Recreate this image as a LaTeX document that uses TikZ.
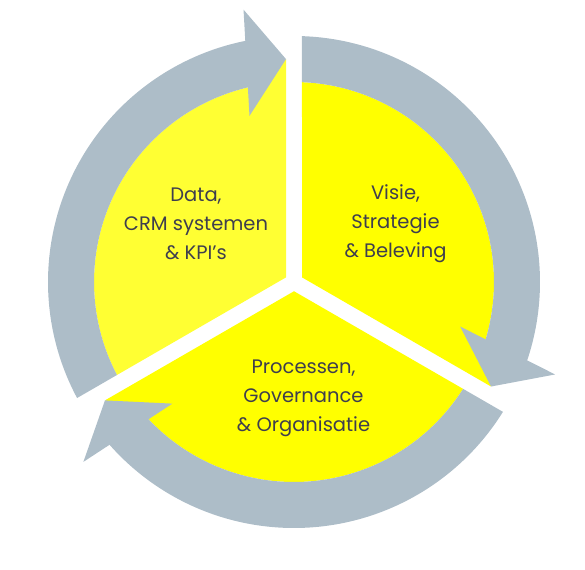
\documentclass[tikz,border=0pt]{standalone}
\usepackage{fontspec}
\setmainfont{Poppins}
\definecolor{ringgray}{RGB}{173,189,200}
\definecolor{yelA}{RGB}{255,255,51}
\definecolor{yelB}{RGB}{255,255,0}
\definecolor{txtcol}{RGB}{62,62,78}
\begin{document}
\begin{tikzpicture}[x=1pt,y=1pt,
  ring/.style={fill=ringgray},
  txtblock/.style={text=txtcol, align=center, font=\fontsize{19.5}{29}\selectfont, inner sep=0pt}]
\useasboundingbox (0,0) rectangle (585,-569);
\begin{scope}[shift={(294,-282)}]
  % yellow sectors (each reaches the tip of the arrow ending at its edge)
  \foreach \r/\c in {0/yelA, -120/yelB, -240/yelB} {
    \begin{scope}[rotate=\r]
      \fill[\c] (-8,4.62) -- (-8,222.9) -- (100:200) arc[start angle=100,end angle=207.71,radius=200] -- cycle;
    \end{scope}
  }
  % gray arrows
  \foreach \r in {0,-120,-240} {
    \begin{scope}[rotate=\r]
      \fill[ring] (207.71:200) -- (208.14:246) arc[start angle=208.14,end angle=99.5,radius=246]
        -- (99.5:200) arc[start angle=99.5,end angle=207.71,radius=200] -- cycle;
      \fill[ring] (-8,222.9) -- (100.5:277) -- (105:172) -- cycle;
    \end{scope}
  }
\end{scope}
\node[txtblock] (dataBlock) at (196,-224) {Data,\\CRM systemen\\\& KPI’s};
\node[txtblock] (visieBlock) at (395.5,-224) {Visie,\\Strategie\\\& Beleving};
\node[txtblock] (procBlock) at (303.5,-398) {Processen,\\Governance\\\& Organisatie};
\end{tikzpicture}
\end{document}
